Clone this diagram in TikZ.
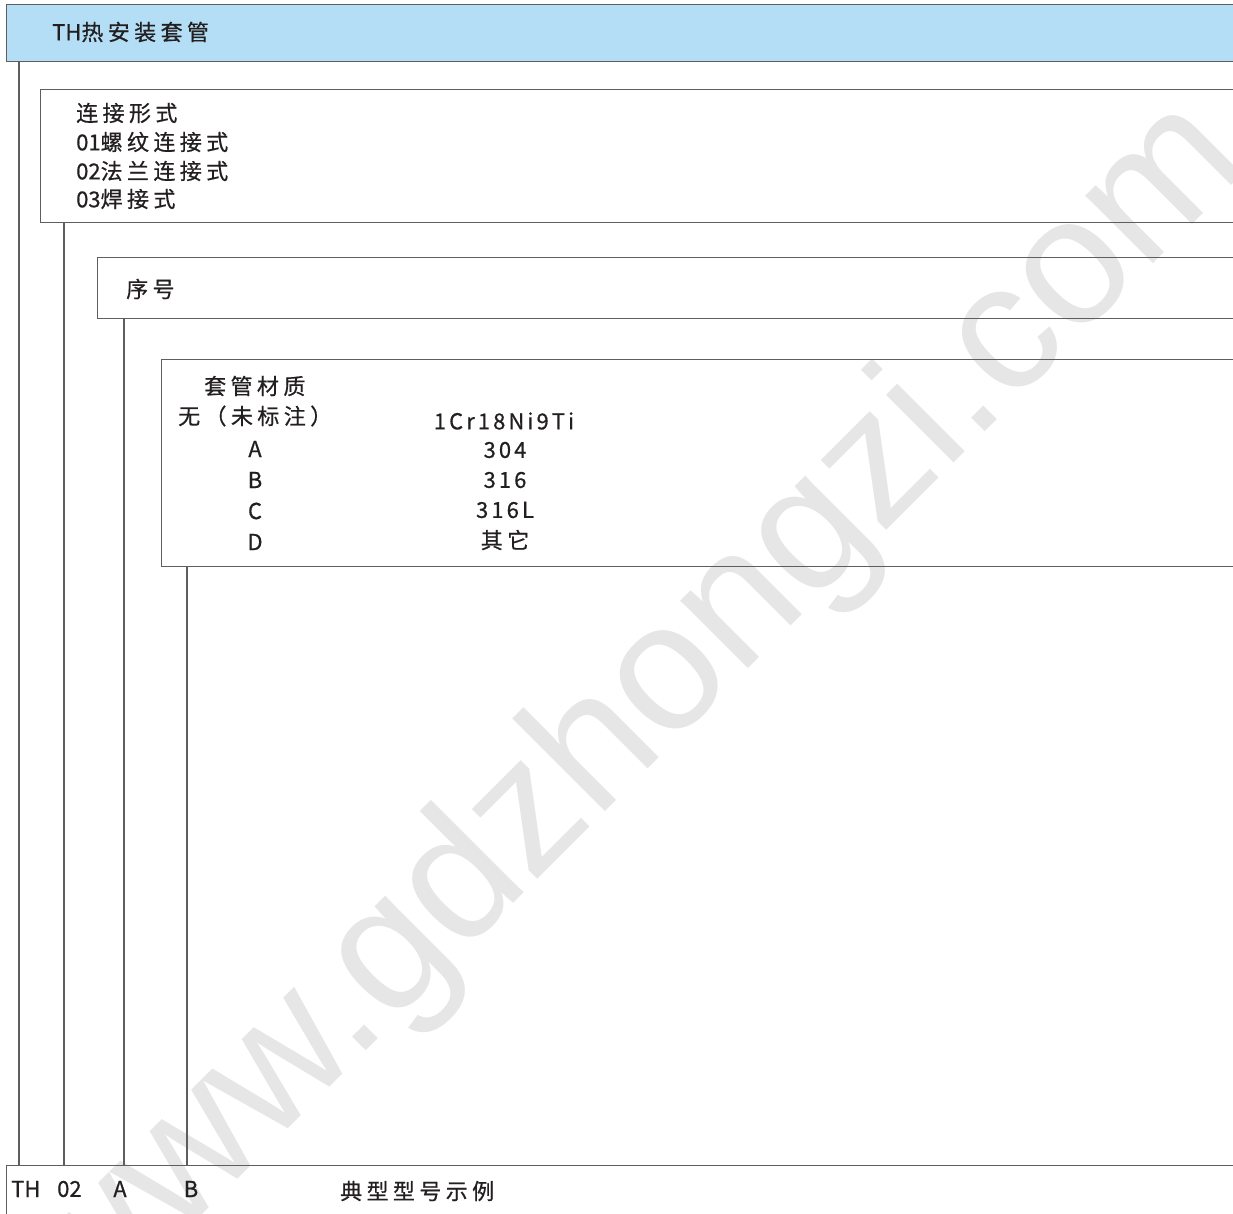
\documentclass[tikz,border=0pt]{standalone}
\usepackage{fontspec}
\newfontfamily\cjkf[LetterSpace=20,FakeBold=0.6]{Noto Sans CJK SC}
\newfontfamily\latf[LetterSpace=14,FakeBold=0.6]{Noto Sans CJK SC}
\newfontfamily\plainf[FakeBold=0.6]{Noto Sans CJK SC}
\newfontfamily\wmf{Liberation Sans}
\definecolor{hdrblue}{HTML}{B3DEF5}
\definecolor{linegray}{HTML}{5E5E5E}
\definecolor{wmgray}{HTML}{E6E6E6}
\definecolor{txt}{HTML}{231F20}
\begin{document}
\begin{tikzpicture}[x=1pt,y=-1pt,
  box/.style={draw=linegray, line width=1.4pt, rectangle, inner sep=0pt, anchor=north west, minimum width=1400pt},
  conn/.style={draw=linegray, line width=1.2pt},
  lbl/.style={font=\cjkf\fontsize{22}{26}\selectfont, text=txt, inner sep=0pt, anchor=west},
  clbl/.style={lbl, anchor=center},
  mat/.style={lbl, anchor=center, font=\latf\fontsize{22}{26}\selectfont},
  code/.style={lbl, font=\plainf\fontsize{22}{26}\selectfont},
  wm/.style={font=\wmf\fontsize{181}{181}\selectfont, text=wmgray, inner sep=0pt, anchor=base, rotate=45}]
\useasboundingbox (0,0) rectangle (1233,1214);
\clip (0,0) rectangle (1233,1214);
% watermark
\node[wm] (wm) at (668,749) {www.gdzhongzi.com};
% boxes
\node[box, fill=hdrblue, minimum height=57pt] (hdr) at (6,4) {};
\node[box, minimum height=133pt] (b1) at (40,89) {};
\node[box, minimum height=61pt] (b2) at (97,257) {};
\node[box, minimum height=207pt] (b3) at (161,359) {};
\node[box, minimum height=100pt] (bot) at (6,1165) {};
% connectors
\draw[conn] ([xshift=13pt]hdr.south west) -- ([xshift=13pt]hdr.south west |- bot.north);
\draw[conn] ([xshift=24pt]b1.south west) -- ([xshift=24pt]b1.south west |- bot.north);
\draw[conn] ([xshift=27pt]b2.south west) -- ([xshift=27pt]b2.south west |- bot.north);
\draw[conn] ([xshift=26pt]b3.south west) -- ([xshift=26pt]b3.south west |- bot.north);
% texts
\node[lbl] (t0) at (52,32) {{\plainf TH}热安装套管};
\node[lbl] (t1a) at (76,113) {连接形式};
\node[lbl] (t1b) at (76,142) {{\plainf 01}螺纹连接式};
\node[lbl] (t1c) at (76,171) {{\plainf 02}法兰连接式};
\node[lbl] (t1d) at (76,199) {{\plainf 03}焊接式};
\node[lbl] (t2) at (126,289) {序号};
\node[lbl] (t3) at (204,386) {套管材质};
\node[lbl] (t3a) at (178,416) {无（未标注）};
\node[mat] (m0) at (504,421) {1Cr18Ni9Ti};
\node[mat] (kA) at (255,449) {A};
\node[mat] (kB) at (255,480) {B};
\node[mat] (kC) at (255,511) {C};
\node[mat] (kD) at (255,542) {D};
\node[mat] (mA) at (505,450) {304};
\node[mat] (mB) at (505,480) {316};
\node[mat] (mC) at (505,510) {316L};
\node[clbl] (mD) at (505,540) {其它};
\node[code] (e1) at (11,1189) {TH};
\node[code] (e2) at (57,1189) {02};
\node[code, anchor=center] (e3) at (120,1189) {A};
\node[code, anchor=center] (e4) at (191,1189) {B};
\node[lbl] (e5) at (340,1191) {典型型号示例};
\end{tikzpicture}
\end{document}
